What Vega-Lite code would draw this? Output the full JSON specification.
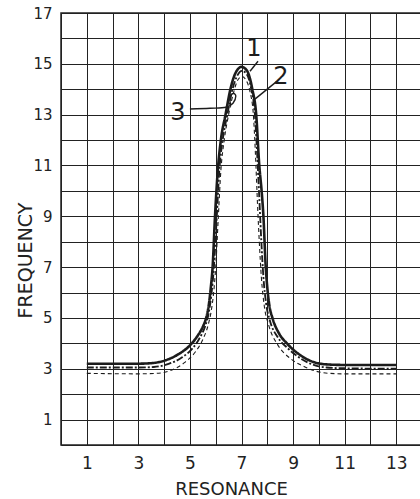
{
  "$schema": "https://vega.github.io/schema/vega-lite/v6.json",
  "width": 361,
  "height": 432,
  "autosize": "none",
  "padding": {"left": 61, "top": 13, "right": 0, "bottom": 54},
  "background": "white",
  "config": {"view": {"stroke": "#222", "strokeWidth": 1.5}, "font": "DejaVu Sans"},
  "datasets": {
    "curves": [
      {"s":"1","x":1,"y":3.2},{"s":"1","x":2,"y":3.2},{"s":"1","x":3,"y":3.2},{"s":"1","x":3.5,"y":3.22},{"s":"1","x":4.1,"y":3.35},{"s":"1","x":4.6,"y":3.6},{"s":"1","x":5.0,"y":3.92},{"s":"1","x":5.3,"y":4.3},{"s":"1","x":5.5,"y":4.65},{"s":"1","x":5.63,"y":5.0},{"s":"1","x":5.73,"y":5.5},{"s":"1","x":5.81,"y":6.2},{"s":"1","x":5.88,"y":7.0},{"s":"1","x":5.97,"y":8.95},{"s":"1","x":6.08,"y":10.8},{"s":"1","x":6.2,"y":12},{"s":"1","x":6.38,"y":13},{"s":"1","x":6.57,"y":14},{"s":"1","x":6.75,"y":14.6},{"s":"1","x":7.0,"y":14.88},{"s":"1","x":7.2,"y":14.75},{"s":"1","x":7.42,"y":14.0},{"s":"1","x":7.57,"y":13.0},{"s":"1","x":7.69,"y":11.0},{"s":"1","x":7.78,"y":10},{"s":"1","x":7.85,"y":9.0},{"s":"1","x":7.94,"y":7.0},{"s":"1","x":8.0,"y":6.2},{"s":"1","x":8.08,"y":5.5},{"s":"1","x":8.2,"y":5.0},{"s":"1","x":8.45,"y":4.4},{"s":"1","x":8.76,"y":4.0},{"s":"1","x":9.26,"y":3.55},{"s":"1","x":9.7,"y":3.3},{"s":"1","x":10.2,"y":3.18},{"s":"1","x":11,"y":3.15},{"s":"1","x":13,"y":3.15},
      {"s":"2","x":1,"y":3.05},{"s":"2","x":3,"y":3.05},{"s":"2","x":3.6,"y":3.07},{"s":"2","x":4.2,"y":3.2},{"s":"2","x":4.7,"y":3.45},{"s":"2","x":5.1,"y":3.8},{"s":"2","x":5.4,"y":4.25},{"s":"2","x":5.6,"y":4.7},{"s":"2","x":5.73,"y":5.2},{"s":"2","x":5.83,"y":5.9},{"s":"2","x":5.93,"y":7.0},{"s":"2","x":6.04,"y":8.95},{"s":"2","x":6.14,"y":10.8},{"s":"2","x":6.27,"y":12},{"s":"2","x":6.45,"y":13},{"s":"2","x":6.65,"y":14},{"s":"2","x":6.82,"y":14.5},{"s":"2","x":7.02,"y":14.72},{"s":"2","x":7.2,"y":14.6},{"s":"2","x":7.38,"y":14.0},{"s":"2","x":7.52,"y":13.0},{"s":"2","x":7.63,"y":11.0},{"s":"2","x":7.7,"y":9.5},{"s":"2","x":7.77,"y":8},{"s":"2","x":7.85,"y":6.6},{"s":"2","x":7.95,"y":5.6},{"s":"2","x":8.1,"y":4.9},{"s":"2","x":8.4,"y":4.25},{"s":"2","x":8.8,"y":3.8},{"s":"2","x":9.3,"y":3.4},{"s":"2","x":9.8,"y":3.15},{"s":"2","x":10.3,"y":3.05},{"s":"2","x":11,"y":3.02},{"s":"2","x":13,"y":3.0},
      {"s":"3","x":1,"y":2.82},{"s":"3","x":3,"y":2.8},{"s":"3","x":3.7,"y":2.82},{"s":"3","x":4.3,"y":2.95},{"s":"3","x":4.8,"y":3.25},{"s":"3","x":5.2,"y":3.65},{"s":"3","x":5.5,"y":4.15},{"s":"3","x":5.7,"y":4.7},{"s":"3","x":5.83,"y":5.3},{"s":"3","x":5.92,"y":6.0},{"s":"3","x":6.0,"y":7.0},{"s":"3","x":6.1,"y":8.95},{"s":"3","x":6.2,"y":10.8},{"s":"3","x":6.33,"y":12},{"s":"3","x":6.5,"y":13},{"s":"3","x":6.7,"y":13.9},{"s":"3","x":6.85,"y":14.35},{"s":"3","x":7.02,"y":14.5},{"s":"3","x":7.18,"y":14.35},{"s":"3","x":7.33,"y":13.9},{"s":"3","x":7.46,"y":13.0},{"s":"3","x":7.56,"y":11.0},{"s":"3","x":7.62,"y":9.5},{"s":"3","x":7.69,"y":8},{"s":"3","x":7.77,"y":6.6},{"s":"3","x":7.88,"y":5.5},{"s":"3","x":8.06,"y":4.7},{"s":"3","x":8.4,"y":3.95},{"s":"3","x":8.9,"y":3.4},{"s":"3","x":9.4,"y":3.1},{"s":"3","x":9.9,"y":2.9},{"s":"3","x":10.4,"y":2.82},{"s":"3","x":11,"y":2.8},{"s":"3","x":13,"y":2.8}
    ],
    "leaders": [
      {"g":"1","o":1,"x":7.64,"y":15.1},{"g":"1","o":2,"x":7.33,"y":14.71},
      {"g":"2","o":1,"x":8.37,"y":14.31},{"g":"2","o":2,"x":7.52,"y":13.61},
      {"g":"3","o":1,"x":5.0,"y":13.22},{"g":"3","o":2,"x":5.78,"y":13.25},{"g":"3","o":3,"x":6.4,"y":13.29},{"g":"3","o":4,"x":6.67,"y":13.45},{"g":"3","o":5,"x":6.78,"y":13.73},{"g":"3","o":6,"x":6.67,"y":13.84},{"g":"3","o":7,"x":6.55,"y":13.65},{"g":"3","o":8,"x":6.59,"y":13.33}
    ],
    "labels": [
      {"t":"1","x":7.48,"y":15.6},
      {"t":"2","x":8.53,"y":14.5},
      {"t":"3","x":4.53,"y":13.06}
    ]
  },
  "encoding": {
    "x": {"field": "x", "type": "quantitative",
      "scale": {"domain": [0, 14], "nice": false, "zero": false},
      "axis": {"values": [0,1,2,3,4,5,6,7,8,9,10,11,12,13,14], "grid": true, "gridColor": "#222", "gridWidth": 1, "gridOpacity": 1,
        "ticks": false, "domain": false, "labelExpr": "datum.value % 2 == 1 ? datum.label : ''", "labelOverlap": false,
        "labelFontSize": 17, "labelPadding": 10, "labelColor": "#222", "labelFlush": false,
        "title": "RESONANCE", "titleFontSize": 18, "titleFontWeight": "normal", "titleColor": "#222",
        "titleX": 170, "titleY": 35, "titleBaseline": "top", "titleAlign": "center"}},
    "y": {"field": "y", "type": "quantitative",
      "scale": {"domain": [0, 17], "nice": false, "zero": false},
      "axis": {"values": [0,1,2,3,4,5,6,7,8,9,10,11,12,13,14,15,16,17], "grid": true, "gridColor": "#222", "gridWidth": 1, "gridOpacity": 1,
        "ticks": false, "domain": false, "labelExpr": "datum.value % 2 == 1 ? datum.label : ''", "labelOverlap": false,
        "labelFontSize": 15, "labelPadding": 9, "labelColor": "#222", "labelFlush": false,
        "title": "FREQUENCY", "titleFontSize": 19, "titleFontWeight": "normal", "titleColor": "#222",
        "titleX": -36, "titleY": 247, "titleBaseline": "middle", "titleAlign": "center", "titleAngle": -90}}
  },
  "layer": [
    {
      "data": {"name": "curves"},
      "mark": {"type": "line", "interpolate": "monotone", "color": "#1c1c1c"},
      "encoding": {
        "detail": {"field": "s"},
        "strokeDash": {"field": "s", "type": "nominal", "legend": null,
          "scale": {"domain": ["1","2","3"], "range": [[1,0],[7,2,2,2],[4,3]]}},
        "strokeWidth": {"field": "s", "type": "nominal", "legend": null,
          "scale": {"domain": ["1","2","3"], "range": [2.6, 1.1, 1.0]}}
      }
    },
    {
      "data": {"name": "leaders"},
      "mark": {"type": "line", "interpolate": "cardinal", "color": "#1c1c1c", "strokeWidth": 1.4},
      "encoding": {
        "detail": {"field": "g"},
        "order": {"field": "o"}
      }
    },
    {
      "data": {"name": "labels"},
      "mark": {"type": "text", "fontSize": 24, "color": "#1c1c1c", "align": "center", "baseline": "middle"},
      "encoding": {
        "text": {"field": "t"}
      }
    }
  ]
}
